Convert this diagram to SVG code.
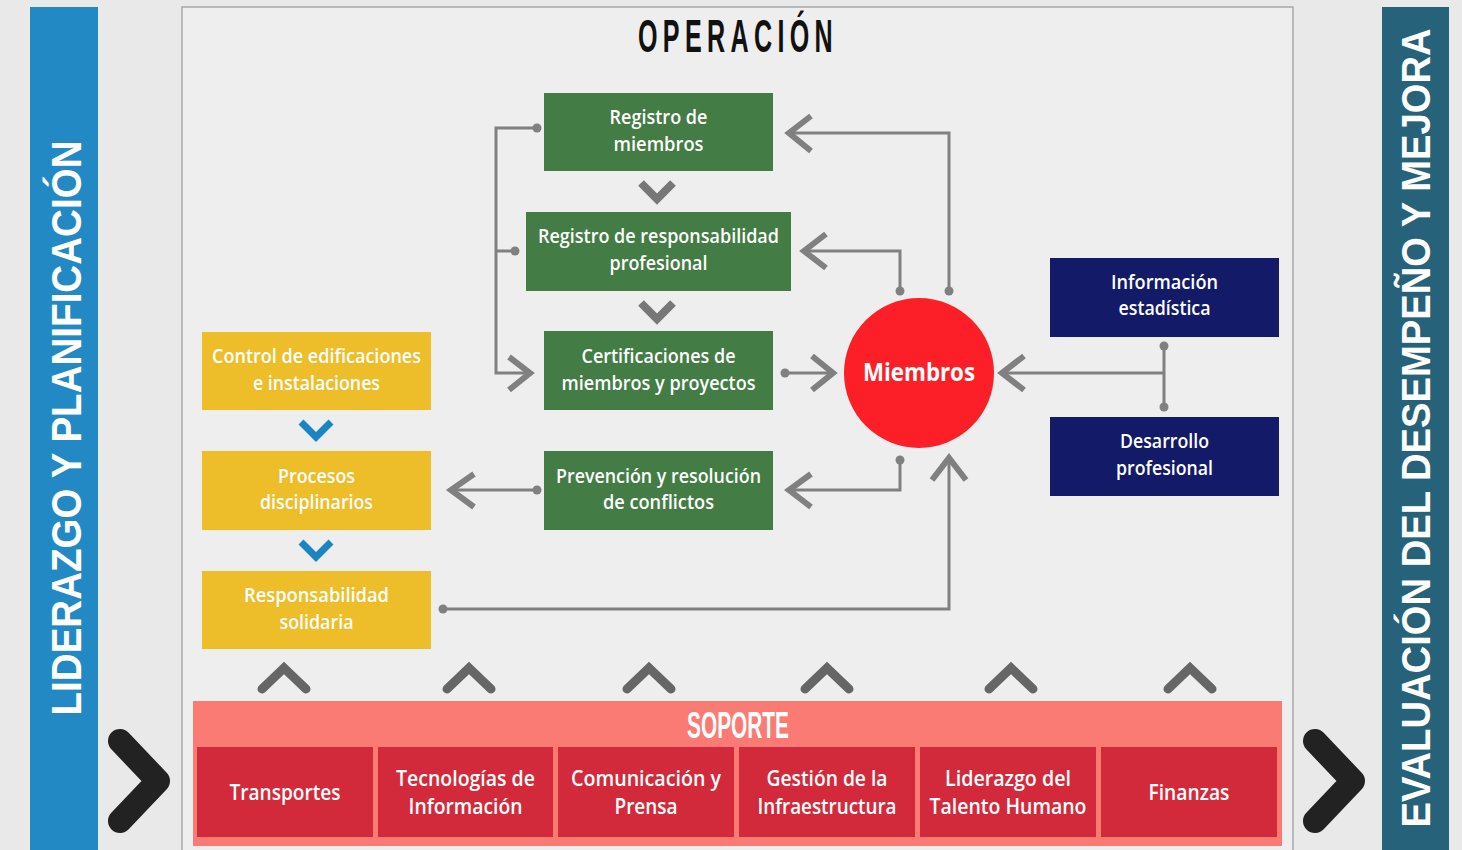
<svg xmlns="http://www.w3.org/2000/svg" width="1462" height="850" viewBox="0 0 1462 850">
<style>
.t{font-family:"Open Sans","Liberation Sans",sans-serif;font-weight:600;fill:#fff;font-size:20px;text-anchor:middle}
.s{font-family:"Open Sans","Liberation Sans",sans-serif;font-weight:600;fill:#fff;font-size:22px;text-anchor:middle}
.h{font-family:"Liberation Sans",sans-serif;font-weight:bold;text-anchor:middle}
.ln{fill:none;stroke:#808080;stroke-width:3}
.ar{fill:none;stroke:#808080;stroke-width:6}
.dot{fill:#808080}
.g{fill:#437c44}
.y{fill:#edbd2a}
.n{fill:#131a67}
.sb{fill:#d32a3b}
.gv{fill:none;stroke:#777;stroke-width:8}
.bv{fill:none;stroke:#1a85c0;stroke-width:7}
.up{fill:none;stroke:#666;stroke-width:9;stroke-linecap:round}
.bk{fill:none;stroke:#222;stroke-width:24;stroke-linecap:round;stroke-linejoin:round}
</style>
<rect x="0" y="0" width="1462" height="850" fill="#e9e9e9"/>
<rect x="182" y="7" width="1111" height="850" fill="#eeeeee" stroke="#a8a8a8" stroke-width="1.5"/>

<g id="bar-left">
<rect x="30" y="7" width="68" height="843" fill="#2389c4"/>
<text class="h" transform="translate(81,428) rotate(-90)" font-size="42" fill="#fff" textLength="575" lengthAdjust="spacingAndGlyphs">LIDERAZGO Y PLANIFICACIÓN</text>
</g>
<g id="bar-right">
<rect x="1382" y="7" width="67" height="843" fill="#266279"/>
<text class="h" transform="translate(1430,428) rotate(-90) scale(0.9,1)" font-size="40" fill="#fff" textLength="888" lengthAdjust="spacingAndGlyphs">EVALUACIÓN DEL DESEMPEÑO Y MEJORA</text>
</g>
<g id="chevrons-side">
<polyline class="bk" points="120,741 158,781 120,821"/>
<polyline class="bk" points="1315,741 1353,781 1315,821"/>
</g>

<g id="title">
<text class="h" x="738" y="52" font-size="47" fill="#111" letter-spacing="10" textLength="200" lengthAdjust="spacingAndGlyphs">OPERACIÓN</text>
</g>

<g id="connectors">
<polyline class="ln" points="537,128 496,128 496,373 530,373"/>
<line class="ln" x1="515" y1="251" x2="496" y2="251"/>
<circle class="dot" cx="537" cy="128" r="4.5"/>
<circle class="dot" cx="515" cy="251" r="4.5"/>
<polyline class="ar" points="509,357 530,373 509,390"/>

<polyline class="ln" points="789,133 949,133 949,291"/>
<circle class="dot" cx="949" cy="291" r="4.5"/>
<polyline class="ar" points="811,116 789,133 811,151"/>

<polyline class="ln" points="804,251 900,251 900,291"/>
<circle class="dot" cx="900" cy="291" r="4.5"/>
<polyline class="ar" points="826,234 804,251 826,268"/>

<line class="ln" x1="785" y1="373" x2="832" y2="373"/>
<circle class="dot" cx="785" cy="373" r="4.5"/>
<polyline class="ar" points="812,356 833,373 812,390"/>

<line class="ln" x1="1164" y1="346" x2="1164" y2="407"/>
<line class="ln" x1="1164" y1="373" x2="1002" y2="373"/>
<circle class="dot" cx="1164" cy="346" r="4.5"/>
<circle class="dot" cx="1164" cy="407" r="4.5"/>
<polyline class="ar" points="1024,356 1002,373 1024,390"/>

<polyline class="ln" points="900,460 900,490 789,490"/>
<circle class="dot" cx="900" cy="460" r="4.5"/>
<polyline class="ar" points="811,474 789,490 811,507"/>

<line class="ln" x1="537" y1="490" x2="451" y2="490"/>
<circle class="dot" cx="537" cy="490" r="4.5"/>
<polyline class="ar" points="474,474 451,490 474,507"/>

<polyline class="ln" points="443,609 949,609 949,459"/>
<circle class="dot" cx="443" cy="609" r="4.5"/>
<polyline class="ar" points="932,480 949,458 966,480"/>

<polyline class="gv" points="641,183 657,199 673,183"/>
<polyline class="gv" points="641,303 657,319 673,303"/>
<polyline class="bv" points="301,422 316,437 331,422"/>
<polyline class="bv" points="301,542 316,557 331,542"/>

<polyline class="up" points="262,689 284,668 306,689"/>
<polyline class="up" points="447,689 469,668 491,689"/>
<polyline class="up" points="627,689 649,668 671,689"/>
<polyline class="up" points="805,689 827,668 849,689"/>
<polyline class="up" points="989,689 1011,668 1033,689"/>
<polyline class="up" points="1168,689 1190,668 1212,689"/>
</g>

<g id="registro-miembros">
<rect class="g" x="544" y="93" width="229" height="78"/>
<text class="t" x="658.5" y="124" textLength="98" lengthAdjust="spacingAndGlyphs">Registro de</text>
<text class="t" x="658.5" y="151" textLength="90" lengthAdjust="spacingAndGlyphs">miembros</text>
</g>
<g id="registro-responsabilidad">
<rect class="g" x="526" y="212" width="265" height="79"/>
<text class="t" x="658.5" y="243" textLength="241" lengthAdjust="spacingAndGlyphs">Registro de responsabilidad</text>
<text class="t" x="658.5" y="270" textLength="98" lengthAdjust="spacingAndGlyphs">profesional</text>
</g>
<g id="certificaciones">
<rect class="g" x="544" y="331" width="229" height="79"/>
<text class="t" x="658.5" y="363" textLength="154" lengthAdjust="spacingAndGlyphs">Certificaciones de</text>
<text class="t" x="658.5" y="390" textLength="194" lengthAdjust="spacingAndGlyphs">miembros y proyectos</text>
</g>
<g id="prevencion">
<rect class="g" x="544" y="451" width="229" height="79"/>
<text class="t" x="658.5" y="483" textLength="205" lengthAdjust="spacingAndGlyphs">Prevención y resolución</text>
<text class="t" x="658.5" y="509" textLength="111" lengthAdjust="spacingAndGlyphs">de conflictos</text>
</g>

<g id="control-edificaciones">
<rect class="y" x="202" y="332" width="229" height="78"/>
<text class="t" x="316.5" y="363" textLength="209" lengthAdjust="spacingAndGlyphs">Control de edificaciones</text>
<text class="t" x="316.5" y="390" textLength="127" lengthAdjust="spacingAndGlyphs">e instalaciones</text>
</g>
<g id="procesos-disciplinarios">
<rect class="y" x="202" y="451" width="229" height="79"/>
<text class="t" x="316.5" y="483" textLength="77" lengthAdjust="spacingAndGlyphs">Procesos</text>
<text class="t" x="316.5" y="509" textLength="113" lengthAdjust="spacingAndGlyphs">disciplinarios</text>
</g>
<g id="responsabilidad-solidaria">
<rect class="y" x="202" y="571" width="229" height="78"/>
<text class="t" x="316.5" y="602" textLength="145" lengthAdjust="spacingAndGlyphs">Responsabilidad</text>
<text class="t" x="316.5" y="629" textLength="74" lengthAdjust="spacingAndGlyphs">solidaria</text>
</g>

<g id="miembros">
<circle cx="919" cy="373" r="75" fill="#fd1f27"/>
<text class="t" x="919" y="381" style="font-weight:700;font-size:25px" textLength="112" lengthAdjust="spacingAndGlyphs">Miembros</text>
</g>

<g id="informacion-estadistica">
<rect class="n" x="1050" y="258" width="229" height="79"/>
<text class="t" x="1164.5" y="289" textLength="107" lengthAdjust="spacingAndGlyphs">Información</text>
<text class="t" x="1164.5" y="315" textLength="92" lengthAdjust="spacingAndGlyphs">estadística</text>
</g>
<g id="desarrollo-profesional">
<rect class="n" x="1050" y="417" width="229" height="79"/>
<text class="t" x="1164.5" y="448" textLength="89" lengthAdjust="spacingAndGlyphs">Desarrollo</text>
<text class="t" x="1164.5" y="475" textLength="97" lengthAdjust="spacingAndGlyphs">profesional</text>
</g>

<g id="soporte">
<rect x="193" y="701" width="1089" height="145" fill="#fa7b73"/>
<text class="h" x="738" y="738" font-size="37" fill="#fff" textLength="102" lengthAdjust="spacingAndGlyphs">SOPORTE</text>
</g>
<g id="transportes">
<rect class="sb" x="197" y="747" width="176" height="90"/>
<text class="s" x="285" y="800" textLength="111" lengthAdjust="spacingAndGlyphs">Transportes</text>
</g>
<g id="tecnologias">
<rect class="sb" x="378" y="747" width="175" height="90"/>
<text class="s" x="465.5" y="786" textLength="139" lengthAdjust="spacingAndGlyphs">Tecnologías de</text>
<text class="s" x="465.5" y="814" textLength="114" lengthAdjust="spacingAndGlyphs">Información</text>
</g>
<g id="comunicacion">
<rect class="sb" x="558" y="747" width="176" height="90"/>
<text class="s" x="646" y="786" textLength="150" lengthAdjust="spacingAndGlyphs">Comunicación y</text>
<text class="s" x="646" y="814" textLength="63" lengthAdjust="spacingAndGlyphs">Prensa</text>
</g>
<g id="infraestructura">
<rect class="sb" x="739" y="747" width="176" height="90"/>
<text class="s" x="827" y="786" textLength="121" lengthAdjust="spacingAndGlyphs">Gestión de la</text>
<text class="s" x="827" y="814" textLength="139" lengthAdjust="spacingAndGlyphs">Infraestructura</text>
</g>
<g id="talento-humano">
<rect class="sb" x="920" y="747" width="176" height="90"/>
<text class="s" x="1008" y="786" textLength="126" lengthAdjust="spacingAndGlyphs">Liderazgo del</text>
<text class="s" x="1008" y="814" textLength="157" lengthAdjust="spacingAndGlyphs">Talento Humano</text>
</g>
<g id="finanzas">
<rect class="sb" x="1101" y="747" width="176" height="90"/>
<text class="s" x="1189" y="800" textLength="81" lengthAdjust="spacingAndGlyphs">Finanzas</text>
</g>
</svg>
